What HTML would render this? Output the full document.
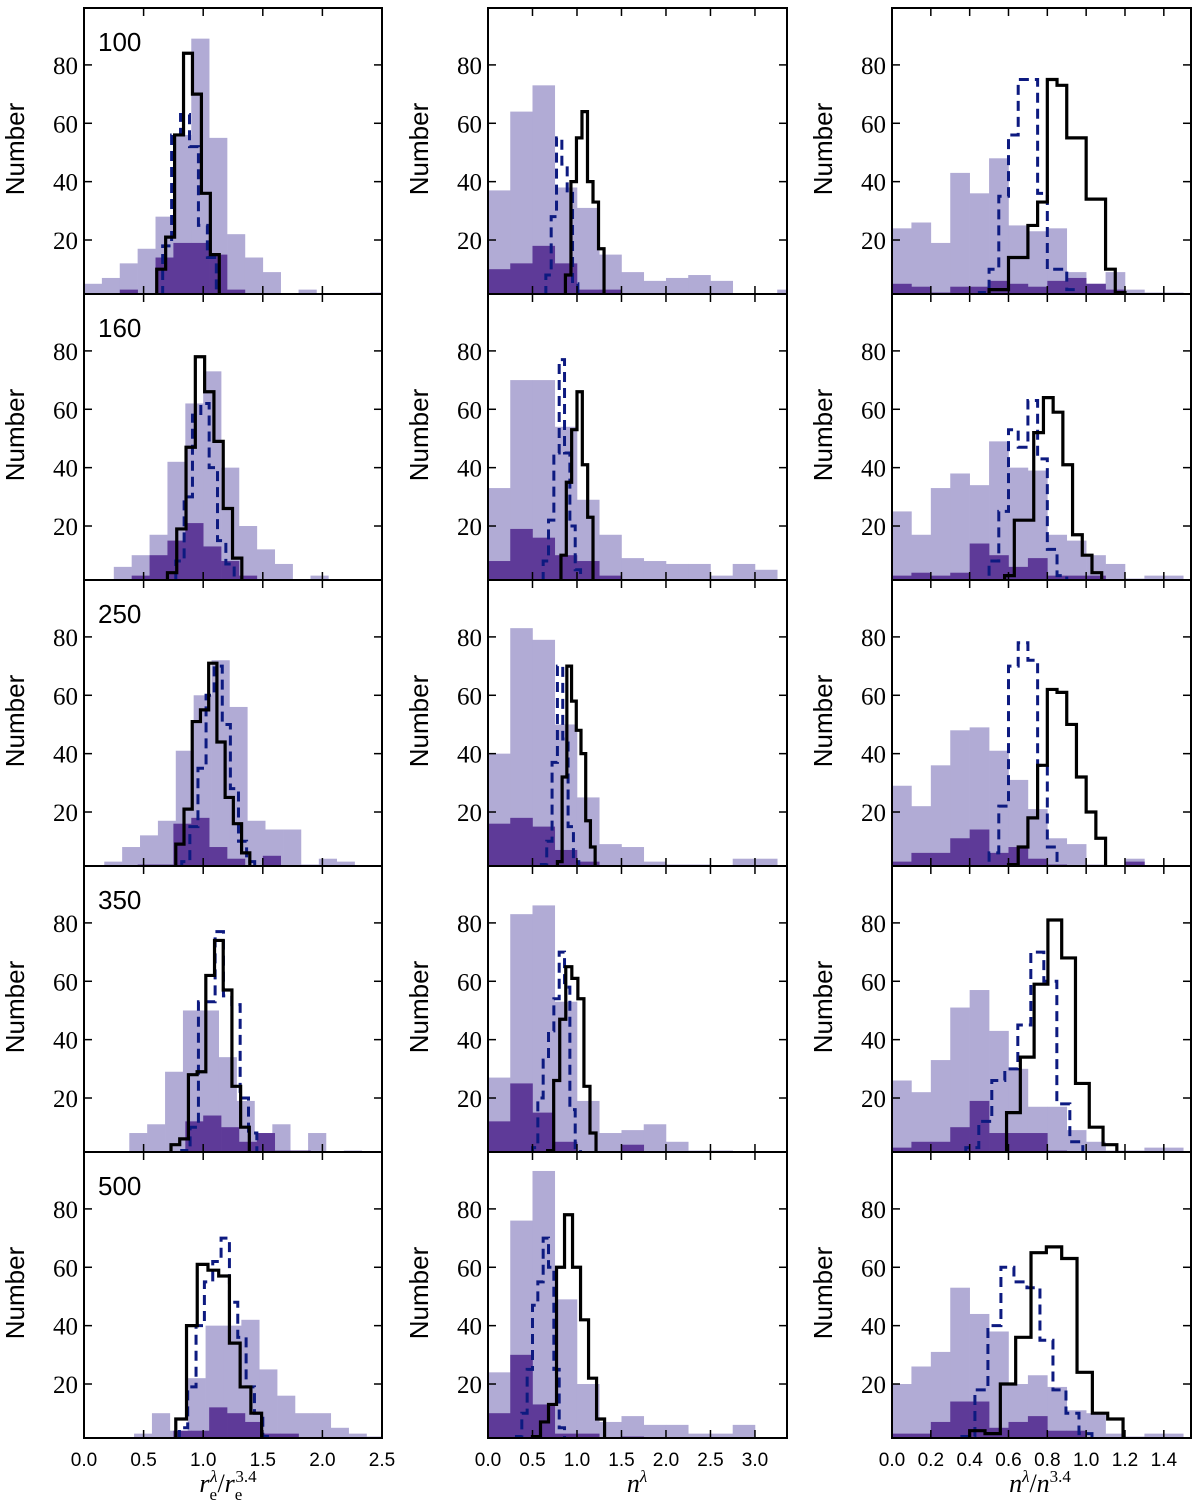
<!DOCTYPE html>
<html><head><meta charset="utf-8">
<style>
html,body{margin:0;padding:0;background:#fff;}
svg{display:block;}
</style></head>
<body>
<svg id="fig" width="1200" height="1510" xmlns="http://www.w3.org/2000/svg"></svg>
<script>
// Row 1 (100)
const r1c1Light=[5,7,12,17,28,56,89,55,22,14,9,0,3,0,0,0,2];
const r1c1Dark=[0,0,3,0,14,19,19,15,3,0,0,0,0];
const r1c1Black=[10,21,56,84,70,36,15];
const r1c1Dash=[18,56,63,52,25,14];
const r1c2Light=[37,64,73,38,31,15,9,6,7,8,6,0,0,3];
const r1c2Dark=[10,12,18,12,3,3,0,0,0,1,1,0,0,0];
const r1c2Black=[8,40,55,64,40,33,17];
const r1c2Dash=[8,28,55,46,36,5];
const r1c3Light=[24,26,19,43,36,48,25,23,24,9,5,9,3,2,2];
const r1c3Dark=[5,4,2,4,4,6,5,4,6,7,5,3,1,0,0];
const r1c3Black=[3,3,14,14,25,33,75,73,55,55,34,34,10,2];
const r1c3Dash=[2,10,35,56,75,75,36,10,10,3];
// Row 2 (160)
const r2c1Light=[1,6,10,17,42,62,73,40,20,12,7,1,3,1];
const r2c1Dark=[3,10,15,21,13,8,3,0,1];
const r2c1Black=[4,19,47,78,66,49,26,9,1];
const r2c1Dash=[8,30,58,62,40,15,7];
const r2c2Light=[33,70,70,54,29,17,9,8,7,7,3,7,5,1];
const r2c2Dark=[8,19,16,10,8,3,0,0,0,0,0,0,0,0];
const r2c2Black=[10,35,53,66,41,23];
const r2c2Dash=[8,22,45,77,45,20,5];
const r2c3Light=[25,17,33,38,34,49,40,39,17,15,10,7,2,3,3];
const r2c3Dark=[3,4,3,4,14,10,6,9,3,3,3,1,0,0,0];
const r2c3Black=[3,22,22,52,64,59,41,17,10,4];
const r2c3Dash=[1,8,25,53,47,63,43,12,3,1];
// Row 3 (250)
const r3c1Light=[3,8,12,17,41,60,72,56,17,14,14,2,4,3];
const r3c1Dark=[2,2,16,18,8,4,0,5];
const r3c1Black=[9,21,51,55,71,44,25,16,6,1];
const r3c1Dash=[3,15,35,60,70,50,28,10,3];
const r3c2Light=[40,83,79,50,25,9,8,3,2,2,0,4,4];
const r3c2Dark=[16,18,15,7,3,0,0,0,0,0,0,1,0];
const r3c2Black=[3,32,70,58,48,40,17,8,1];
const r3c2Dash=[2,10,37,70,45,15,3];
const r3c3Light=[29,22,36,48,49,41,31,21,11,9,2,0,4,0,0];
const r3c3Dark=[3,6,6,11,14,6,8,4,2,0,0,0,3,0,0];
const r3c3Black=[2,8,18,36,62,61,50,32,20,11];
const r3c3Dash=[1,6,22,70,78,72,36,8,1];
// Row 4 (350)
const r4c1Light=[1,8,11,29,50,50,34,19,8,11,2,8,1,2];
const r4c1Dark=[1,1,12,14,10,5,8,2,2,0,1];
const r4c1Black=[4,6,28,29,62,74,57,24,10,1];
const r4c1Dash=[2,10,53,53,77,55,52,20,8,1];
const r4c2Light=[27,83,86,53,19,8,9,11,5,2,2,1,1,1];
const r4c2Dark=[12,25,15,5,0,0,4,0,0,1,0,0,0,0];
const r4c2Black=[2,26,47,65,61,54,24,8];
const r4c2Dash=[3,20,33,43,54,70,58,16,3];
const r4c3Light=[26,22,33,51,57,43,30,17,17,9,5,2,2,3,3];
const r4c3Dark=[3,5,5,10,19,8,8,8,2,1,1,0,0,0,1];
const r4c3Black=[15,34,59,81,68,25,10,4];
const r4c3Dash=[3,12,26,30,45,70,60,18,5];
// Row 5 (500)
const r5c1Light=[3,10,4,22,40,40,42,25,16,10,10,5,3,2];
const r5c1Dark=[4,4,12,10,7,3,3,0,1];
const r5c1Black=[1,8,40,61,59,57,34,19,10];
const r5c1Dash=[5,19,40,55,62,70,48,36,19,10,2];
const r5c2Light=[24,76,93,49,20,7,9,6,6,3,3,6,1,0];
const r5c2Dark=[10,30,13,3,3,0,2,0,0,0,0,0,0,0];
const r5c2Black=[2,7,13,60,78,60,42,22,8];
const r5c2Dash=[2,10,25,47,55,70,60,25,5];
const r5c3Light=[20,26,31,53,44,38,20,23,19,11,10,3,2,3,3];
const r5c3Dark=[3,3,7,14,14,5,7,9,4,4,0,0,1,0,0];
const r5c3Black=[4,3,20,36,65,67,63,24,10,8];
const r5c3Dash=[2,18,40,60,55,53,35,18,10,3];

const rowLabels=["100","160","250","350","500"];
const yTicks=[20,40,60,80];
const col1Ticks=[0,0.5,1,1.5,2,2.5];
const col2Ticks=[0,0.5,1,1.5,2,2.5,3];
const col3Ticks=[0,0.2,0.4,0.6,0.8,1.0,1.2,1.4];
const col1TickLabels=["0.0","0.5","1.0","1.5","2.0","2.5"];
const col2TickLabels=["0.0","0.5","1.0","1.5","2.0","2.5","3.0"];
const col3TickLabels=["0.0","0.2","0.4","0.6","0.8","1.0","1.2","1.4"];

const colDomain=[[0,2.5],[0,3.36],[0,1.54]];
const colTicks=[col1Ticks,col2Ticks,col3Ticks];
const colTickLabels=[col1TickLabels,col2TickLabels,col3TickLabels];
const lightBin=[[0,0.15],[0,0.25],[0,0.1]];
const lightStartRow=[[0,0,0],[0.1,0,0],[0.17,0,0],[0.23,0,0],[0.42,0,0]];
const darkStartRow=[[0,0,0],[0.4,0,0],[0.45,0,0],[0.55,0,0],[0.75,0,0]];
const blackSpec=[
 [[0.61,0.075],[0.87,0.062],[0.5,0.05]],
 [[0.70,0.078],[0.82,0.06],[0.58,0.05]],
 [[0.77,0.069],[0.78,0.053],[0.6,0.05]],
 [[0.73,0.073],[0.67,0.068],[0.59,0.071]],
 [[0.68,0.09],[0.5,0.09],[0.4,0.079]]];
const dashSpec=[
 [[0.66,0.075],[0.65,0.06],[0.45,0.05]],
 [[0.77,0.07],[0.62,0.06],[0.45,0.05]],
 [[0.82,0.068],[0.6,0.06],[0.45,0.05]],
 [[0.82,0.07],[0.5,0.06],[0.38,0.067]],
 [[0.8,0.07],[0.32,0.06],[0.36,0.067]]];

const data=[
 [[r1c1Light,r1c1Dark,r1c1Black,r1c1Dash],[r1c2Light,r1c2Dark,r1c2Black,r1c2Dash],[r1c3Light,r1c3Dark,r1c3Black,r1c3Dash]],
 [[r2c1Light,r2c1Dark,r2c1Black,r2c1Dash],[r2c2Light,r2c2Dark,r2c2Black,r2c2Dash],[r2c3Light,r2c3Dark,r2c3Black,r2c3Dash]],
 [[r3c1Light,r3c1Dark,r3c1Black,r3c1Dash],[r3c2Light,r3c2Dark,r3c2Black,r3c2Dash],[r3c3Light,r3c3Dark,r3c3Black,r3c3Dash]],
 [[r4c1Light,r4c1Dark,r4c1Black,r4c1Dash],[r4c2Light,r4c2Dark,r4c2Black,r4c2Dash],[r4c3Light,r4c3Dark,r4c3Black,r4c3Dash]],
 [[r5c1Light,r5c1Dark,r5c1Black,r5c1Dash],[r5c2Light,r5c2Dark,r5c2Black,r5c2Dash],[r5c3Light,r5c3Dark,r5c3Black,r5c3Dash]]];

const NS="http://www.w3.org/2000/svg";
const svg=document.getElementById('fig');
function mk(tag,attrs,parent){const e=document.createElementNS(NS,tag);for(const k in attrs)e.setAttribute(k,attrs[k]);(parent||svg).appendChild(e);return e;}

const colLeft=[84,488,892],colW=[298,299,299];
const rowTop=8,rowH=286,YMIN=1.5,YMAX=99.5;
const defs=mk('defs',{});

for(let r=0;r<5;r++){
 for(let c=0;c<3;c++){
  const L=colLeft[c],W=colW[c],T=rowTop+r*rowH,B=T+rowH;
  const [d0,d1]=colDomain[c];
  const xs=v=>L+(v-d0)/(d1-d0)*W;
  const ys=v=>B-(v-YMIN)/(YMAX-YMIN)*rowH;
  const g=mk('g',{});
  
  
  const cid='clip'+r+c;
  const cp=mk('clipPath',{id:cid},defs);
  mk('rect',{x:L,y:T,width:W,height:rowH},cp);
  const pg=mk('g',{'clip-path':'url(#'+cid+')'},g);
  const [light,dark,black,dash]=data[r][c];
  const drawBars=(arr,x0,w,fill,name)=>{
   arr.forEach((v,i)=>{
    if(v<=0)return;
    const rc=mk('rect',{x:xs(x0+i*w),y:ys(v),width:xs(x0+(i+1)*w)-xs(x0+i*w)+0.3,height:Math.max(0,B-ys(v)),fill:fill},pg);
    
    
   });
  };
  drawBars(light,lightStartRow[r][c],lightBin[c][1],'#b1abd5','light-hist');
  drawBars(dark,darkStartRow[r][c],lightBin[c][1],'#5e3a98','dark-hist');
  const stepPath=(arr,x0,w)=>{
   let d='M'+xs(x0)+','+(B+2);
   arr.forEach((v,i)=>{d+=' V'+ys(v)+' H'+xs(x0+(i+1)*w);});
   d+=' V'+(B+2);return d;
  };
  const ds=dashSpec[r][c];
  const pd=mk('path',{d:stepPath(dash,ds[0],ds[1]),fill:'none',stroke:'#0d1a80','stroke-width':3,'stroke-dasharray':'10,6'},pg);
  
  
  const bs=blackSpec[r][c];
  const pb=mk('path',{d:stepPath(black,bs[0],bs[1]),fill:'none',stroke:'#000','stroke-width':3.2},pg);
  
  
  const fr=mk('rect',{x:L,y:T,width:W,height:rowH,fill:'none',stroke:'#000','stroke-width':2},g);
  
  
  yTicks.forEach(v=>{
   const y=ys(v);
   mk('line',{x1:L,x2:L+8,y1:y,y2:y,stroke:'#000','stroke-width':1.5},g);
   mk('line',{x1:L+W-8,x2:L+W,y1:y,y2:y,stroke:'#000','stroke-width':1.5},g);
   const t=mk('text',{x:L-6,y:y+9,'text-anchor':'end','font-family':'"Liberation Serif", "DejaVu Serif", serif','font-size':25},g);
   t.textContent=String(v);
   
   
  });
  colTicks[c].forEach((v,i)=>{
   const x=xs(v);
   mk('line',{x1:x,x2:x,y1:B,y2:B-8,stroke:'#000','stroke-width':1.5},g);
   mk('line',{x1:x,x2:x,y1:T,y2:T+8,stroke:'#000','stroke-width':1.5},g);
   if(r===4){
    const t=mk('text',{x:x,y:B+28,'text-anchor':'middle','font-family':'"Liberation Sans", sans-serif','font-size':19},g);
    t.textContent=colTickLabels[c][i];
    
    
   }
  });
  const yl=mk('text',{x:0,y:0,transform:'translate('+(L-60)+','+(T+rowH/2-2)+') rotate(-90)','text-anchor':'middle','font-family':'"Liberation Sans", sans-serif','font-size':26},g);
  yl.textContent='Number';
  
  
  if(c===0){
   const lb=mk('text',{x:L+14,y:T+43,'font-family':'"Liberation Sans", sans-serif','font-size':26},g);
   lb.textContent=rowLabels[r];
   
   
  }
 }
}
function title(x,html,name){
 const t=mk('text',{x:x,y:1492,'text-anchor':'middle','font-family':'"Liberation Serif", serif','font-size':26});
 t.innerHTML=html;
 
 
}
title(228,'<tspan font-style="italic">r</tspan><tspan font-size="17" dy="8">e</tspan><tspan font-size="17" dy="-18" dx="-7" font-style="italic">λ</tspan><tspan dy="10">/</tspan><tspan font-style="italic">r</tspan><tspan font-size="17" dy="8">e</tspan><tspan font-size="17" dy="-18" dx="-7">3.4</tspan>','x-axis-title-re');
title(637,'<tspan font-style="italic">n</tspan><tspan font-size="17" dy="-10" font-style="italic">λ</tspan>','x-axis-title-n');
title(1040,'<tspan font-style="italic">n</tspan><tspan font-size="17" dy="-10" font-style="italic">λ</tspan><tspan dy="10">/</tspan><tspan font-style="italic">n</tspan><tspan font-size="17" dy="-10">3.4</tspan>','x-axis-title-ratio');
</script>
</body></html>
